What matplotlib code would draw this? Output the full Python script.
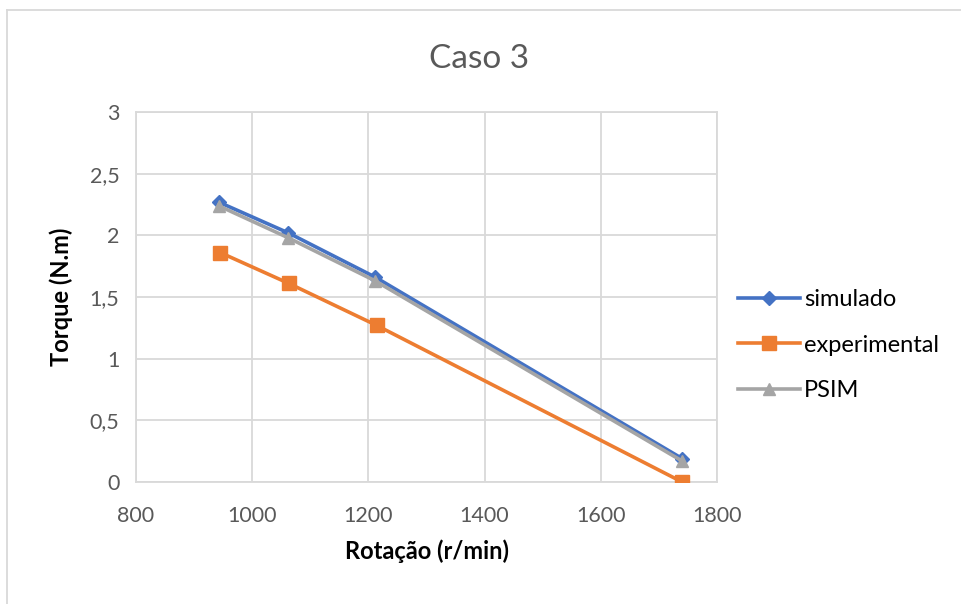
import matplotlib.pyplot as plt
from matplotlib.lines import Line2D

plt.rcParams['font.family'] = ['Lato', 'DejaVu Sans']

rotacao_sim = [942, 1062, 1212, 1740]
torque_sim = [2.27, 2.02, 1.66, 0.19]
rotacao_exp = [945, 1063, 1214, 1740]
torque_exp = [1.86, 1.61, 1.27, 0.0]
rotacao_psim = [942, 1062, 1212, 1740]
torque_psim = [2.24, 1.98, 1.63, 0.17]

fig = plt.figure(figsize=(9.62, 6.04), dpi=100)
ax = fig.add_axes([0.1414, 0.202, 0.6039, 0.6126])

ax.plot(rotacao_sim, torque_sim, color='#4472C4', lw=2.6, marker='D', ms=7,
        label='simulado', zorder=3)
ax.plot(rotacao_exp, torque_exp, color='#ED7D31', lw=2.6, marker='s', ms=10,
        label='experimental', zorder=3)
ax.plot(rotacao_psim, torque_psim, color='#A5A5A5', lw=2.6, marker='^', ms=9,
        label='PSIM', zorder=4)

ax.set_xlim(800, 1800)
ax.set_ylim(0, 3)
ax.set_xticks(range(800, 1801, 200))
ax.set_yticks([0, 0.5, 1, 1.5, 2, 2.5, 3])
ax.set_yticklabels(['0', '0,5', '1', '1,5', '2', '2,5', '3'])
ax.tick_params(length=0, labelsize=15.5, labelcolor='#595959')
ax.tick_params(axis='x', pad=17)
ax.tick_params(axis='y', pad=12)
ax.grid(color='#D9D9D9', lw=1.3)
ax.set_axisbelow(True)
for s in ax.spines.values():
    s.set_color('#D9D9D9')
    s.set_linewidth(1.3)

ax.set_xlabel('Rotação (r/min)', fontsize=17, fontweight='bold', labelpad=10)
ax.set_ylabel('Torque (N.m)', fontsize=17, fontweight='bold', labelpad=12)
fig.text(0.498, 0.903, 'Caso 3', ha='center', va='center', fontsize=24,
         color='#595959')

leg = ax.legend(loc='center left', bbox_to_anchor=(1.0, 0.37), frameon=False,
                fontsize=17, handlelength=2.6, labelspacing=1.05,
                handletextpad=0.2)

# chart area frame
fig.add_artist(Line2D([7/962, 7/962], [0, 1 - 10/604], transform=fig.transFigure,
                      color='#D9D9D9', lw=1.3))
fig.add_artist(Line2D([7/962, 1], [1 - 10/604, 1 - 10/604], transform=fig.transFigure,
                      color='#D9D9D9', lw=1.3))

fig.savefig('out.png', dpi=100)
